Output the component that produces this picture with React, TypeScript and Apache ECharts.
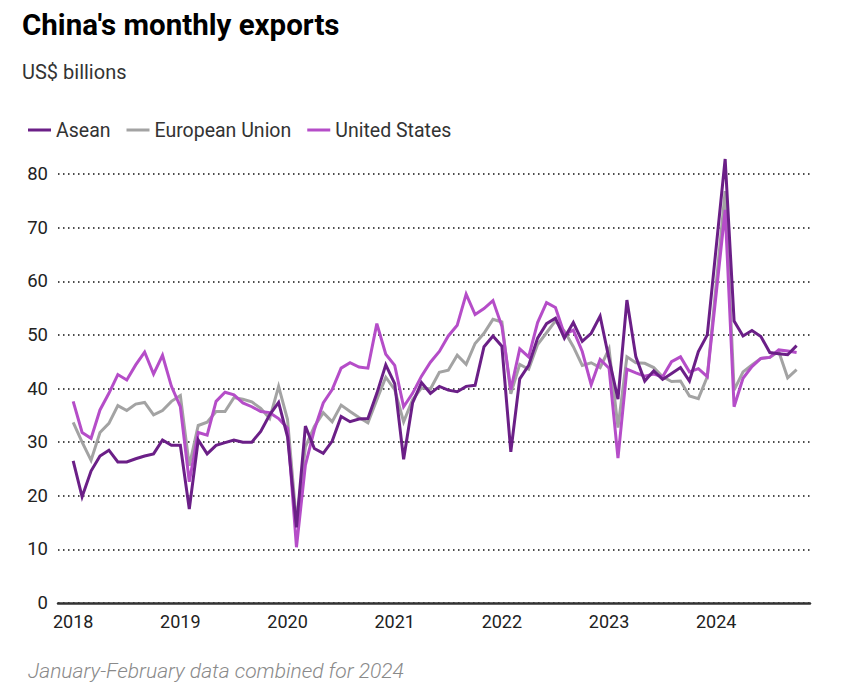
import React, { useEffect, useRef } from "react";
import * as echarts from "echarts";

// Monthly periods Jan 2018 .. Oct 2024 (Jan 2024 combined into Feb 2024)
const startYear = 2018;
const monthCount = 82;
const yearTicks = [2018, 2019, 2020, 2021, 2022, 2023, 2024];
const yTicks = [0, 10, 20, 30, 40, 50, 60, 70, 80];

const asean: (number | null)[] = [
  26.5, 19.8, 24.6, 27.4, 28.5, 26.3, 26.3, 26.9, 27.4, 27.8, 30.4, 29.4,
  29.4, 17.5, 30.4, 27.8, 29.4, 29.9, 30.4, 30.0, 30.0, 32.0, 35.1, 37.4,
  31.0, 14.1, 33.0, 28.8, 27.9, 30.2, 34.8, 33.8, 34.3, 34.4, 39.1, 44.4,
  40.9, 26.8, 37.3, 41.1, 39.1, 40.4, 39.7, 39.4, 40.4, 40.6, 47.8, 49.8,
  47.9, 28.2, 41.8, 44.3, 49.4, 52.1, 53.1, 49.4, 52.3, 48.8, 50.3, 53.5,
  45.5, 38.0, 56.5, 45.9, 41.4, 43.3, 41.7, 42.8, 43.9, 41.4, 46.9, 50.0,
  null, 82.8, 52.6, 49.8, 50.8, 49.7, 46.7, 46.5, 46.3, 48.0,
];

const europeanUnion: (number | null)[] = [
  33.7, 30.0, 26.6, 31.8, 33.5, 36.8, 35.9, 37.1, 37.4, 35.1, 35.9, 37.6,
  38.7, 25.6, 33.1, 33.7, 35.7, 35.7, 38.3, 38.0, 37.5, 36.3, 34.4, 40.4,
  34.2, 15.0, 29.1, 32.9, 35.5, 33.8, 36.9, 35.7, 34.6, 33.6, 37.9, 42.1,
  39.8, 33.8, 37.9, 40.1, 39.9, 43.0, 43.4, 46.2, 44.5, 48.4, 50.3, 52.9,
  52.4, 39.0, 44.5, 43.6, 48.2, 50.4, 52.6, 50.7, 47.8, 44.3, 44.8, 43.9,
  47.4, 32.7, 45.9, 44.8, 44.7, 43.9, 42.2, 41.3, 41.4, 38.6, 38.1, 42.2,
  null, 76.8, 39.7, 43.1, 44.4, 45.6, 45.8, 46.9, 42.0, 43.5,
];

const unitedStates: (number | null)[] = [
  37.6, 31.8, 30.7, 36.0, 39.1, 42.6, 41.6, 44.4, 46.8, 42.7, 46.2, 40.4,
  36.6, 22.6, 31.8, 31.3, 37.6, 39.3, 38.8, 37.3, 36.6, 35.7, 35.5, 34.4,
  32.6, 10.4, 25.7, 32.3, 37.3, 39.8, 43.8, 44.8, 44.0, 43.8, 52.1, 46.4,
  44.3, 36.6, 39.1, 42.3, 44.9, 46.9, 49.8, 51.8, 57.6, 53.8, 54.9, 56.4,
  51.6, 39.8, 47.4, 45.9, 52.3, 56.0, 55.1, 50.1, 50.9, 46.9, 40.7, 45.4,
  43.8, 27.0, 43.6, 42.9, 42.3, 42.7, 42.2, 45.0, 45.9, 43.1, 43.7, 42.2,
  null, 73.3, 36.6, 41.9, 44.1, 45.6, 45.8, 47.2, 47.0, 46.7,
];

const seriesNames = ["Asean", "European Union", "United States"];
const seriesColors = ["#6b1f87", "#a3a3a3", "#b54dc8"];

const months = Array.from({ length: monthCount }, (_, i) => i);

function toPoints(values: (number | null)[]) {
  return months.map((m) => [m, values[m]]);
}

export default function App() {
  const ref = useRef<HTMLDivElement>(null);

  useEffect(() => {
    document.body.style.margin = "0";
    if (!ref.current) return;
    const chart = echarts.init(ref.current, null, { renderer: "svg" });
    const font = "Roboto, 'Noto Sans', sans-serif";
    const lineSeries = (name: string, values: (number | null)[], color: string, z: number) => ({
      name,
      type: "line",
      data: toPoints(values),
      showSymbol: false,
      symbol: "none",
      connectNulls: true,
      clip: false,
      z,
      lineStyle: { color, width: 3, join: "miter" },
      itemStyle: { color },
    });
    chart.setOption({
      animation: false,
      backgroundColor: "#ffffff",
      textStyle: { fontFamily: font },
      title: [
        {
          text: "China's monthly exports",
          left: 22,
          top: 10,
          padding: 0,
          textStyle: { fontSize: 29.5, fontWeight: "bold", color: "#000", fontFamily: font },
        },
        {
          text: "US$ billions",
          left: 22,
          top: 62,
          padding: 0,
          textStyle: { fontSize: 20, fontWeight: "normal", color: "#333", fontFamily: font },
        },
      ],
      legend: {
        data: seriesNames,
        left: 23,
        top: 115,
        icon: "rect",
        itemWidth: 23,
        itemHeight: 3,
        itemGap: 16,
        textStyle: { fontSize: 19.5, color: "#333", fontFamily: font },
      },
      grid: { left: 58, right: 40, top: 174, bottom: 86, containLabel: false },
      xAxis: {
        type: "value",
        min: -1.7,
        max: 82.5,
        splitLine: { show: false },
        axisTick: { show: false },
        axisLine: { show: true, onZero: false, lineStyle: { color: "#333", width: 2.5 } },
        axisLabel: {
          customValues: yearTicks.map((y) => (y - startYear) * 12),
          formatter: (v: number) => String(startYear + Math.round(v / 12)),
          fontSize: 18,
          color: "#222",
          margin: 9,
          fontFamily: font,
        },
      },
      yAxis: {
        type: "value",
        min: yTicks[0],
        max: yTicks[yTicks.length - 1],
        interval: 10,
        axisLine: { show: false },
        axisTick: { show: false },
        axisLabel: { fontSize: 18.5, color: "#222", margin: 10, fontFamily: font },
        splitLine: {
          show: true,
          lineStyle: { color: "#111", width: 1.5, type: [1.5, 3.5] },
        },
      },
      series: [
        lineSeries(seriesNames[1], europeanUnion, seriesColors[1], 2),
        lineSeries(seriesNames[2], unitedStates, seriesColors[2], 3),
        lineSeries(seriesNames[0], asean, seriesColors[0], 4),
      ],
      graphic: [
        {
          type: "text",
          left: 28,
          top: 660,
          style: {
            text: "January-February data combined for 2024",
            fontSize: 21,
            fontStyle: "italic",
            fontWeight: 300,
            fill: "#8a8a8a",
            fontFamily: font,
          },
        },
      ],
    });
    return () => chart.dispose();
  }, []);

  return <div ref={ref} style={{ width: 850, height: 689 }} />;
}
